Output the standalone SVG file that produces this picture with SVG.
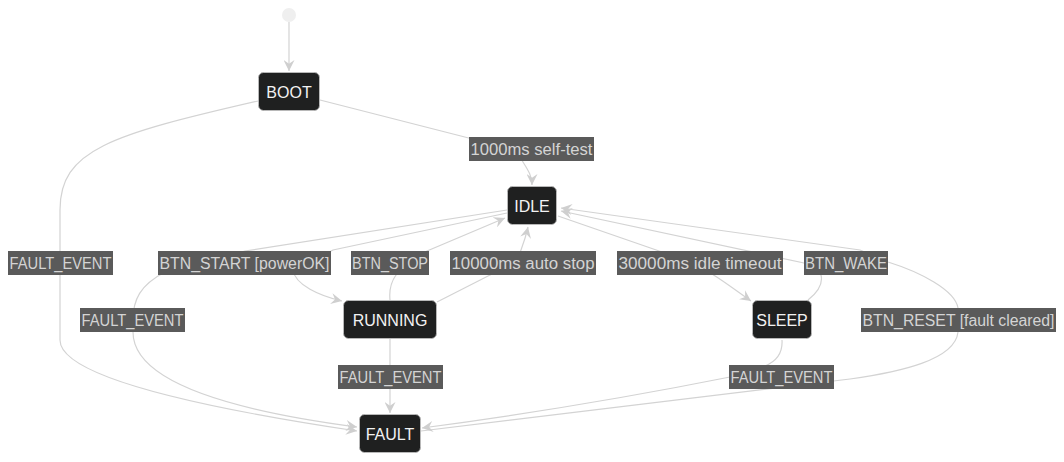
<svg xmlns="http://www.w3.org/2000/svg" width="1064" height="462" viewBox="0 0 1064 462">
<defs>
<style>
.edge{fill:none;stroke:#d3d3d3;stroke-width:1.2}
.lbl rect{fill:#5a5a5a}
.lbl text{font-family:"Liberation Sans",Arial,sans-serif;font-size:16px;fill:#d4d4d4;text-anchor:middle}
.node rect{fill:#1f2020;stroke:#b8b8b8;stroke-width:1}
.node text{font-family:"Liberation Sans",Arial,sans-serif;font-size:16px;fill:#f2f2f2;text-anchor:middle}
</style>
<marker id="arr" viewBox="0 0 10 10" refX="10" refY="5" markerWidth="11" markerHeight="11" markerUnits="userSpaceOnUse" orient="auto">
<path d="M0,0 L10,5 L0,10 L3.5,5 z" fill="#cfcfcf"/>
</marker>
</defs>
<rect width="1064" height="462" fill="#ffffff"/>
<g id="connectors">
<path class="edge" d="M289,22 L289,71" marker-end="url(#arr)"/>
<path class="edge" d="M320,100 L500,146 C515,150 521,156 523,162 C528,170 532,176 532,185" marker-end="url(#arr)"/>
<path class="edge" d="M258,101 C110,135 60,150 60,210 L60,340 C60,370 150,400 357,431" marker-end="url(#arr)"/>
<path class="edge" d="M507,213 L333,250 L293,270 C295,285 320,296 342,301" marker-end="url(#arr)"/>
<path class="edge" d="M507,210 L245,251 L165,272 C140,285 133,300 133,320 L133,332 C133,370 190,405 357,427" marker-end="url(#arr)"/>
<path class="edge" d="M390,300 C389,290 391,282 396,275 L415,258 L427,251 L505,218" marker-end="url(#arr)"/>
<path class="edge" d="M437,302 L492,274 C510,265 518,258 521,250 C524,242 526,236 528,227" marker-end="url(#arr)"/>
<path class="edge" d="M558,216 L662,252 L712,274 C725,282 738,292 751,301" marker-end="url(#arr)"/>
<path class="edge" d="M808,300 C818,292 823,283 821,275 L804,263 L561,211" marker-end="url(#arr)"/>
<path class="edge" d="M421,431 L850,379 C900,372 955,360 958,332 L958,308 C955,290 920,272 888,262 L860,250 L561,208" marker-end="url(#arr)"/>
<path class="edge" d="M782,340 C783,355 775,362 765,366 L730,377 C640,395 520,415 422,428" marker-end="url(#arr)"/>
<path class="edge" d="M390,339 L390,413" marker-end="url(#arr)"/>
<g class="lbl"><rect x="469" y="137" width="125" height="24"/><text x="531.5" y="154.5" textLength="122" lengthAdjust="spacingAndGlyphs">1000ms self-test</text></g>
<g class="lbl"><rect x="8" y="251" width="105" height="24"/><text x="60.5" y="268.5" textLength="102" lengthAdjust="spacingAndGlyphs">FAULT_EVENT</text></g>
<g class="lbl"><rect x="158" y="251" width="173" height="24"/><text x="244.5" y="268.5" textLength="170" lengthAdjust="spacingAndGlyphs">BTN_START [powerOK]</text></g>
<g class="lbl"><rect x="351" y="251" width="78" height="24"/><text x="390" y="268.5" textLength="76" lengthAdjust="spacingAndGlyphs">BTN_STOP</text></g>
<g class="lbl"><rect x="450" y="251" width="146" height="24"/><text x="523" y="268.5" textLength="143" lengthAdjust="spacingAndGlyphs">10000ms auto stop</text></g>
<g class="lbl"><rect x="617" y="251" width="166" height="24"/><text x="700" y="268.5" textLength="163" lengthAdjust="spacingAndGlyphs">30000ms idle timeout</text></g>
<g class="lbl"><rect x="804" y="251" width="84" height="24"/><text x="846" y="268.5" textLength="82" lengthAdjust="spacingAndGlyphs">BTN_WAKE</text></g>
<g class="lbl"><rect x="80" y="308" width="105" height="24"/><text x="132.5" y="325.5" textLength="102" lengthAdjust="spacingAndGlyphs">FAULT_EVENT</text></g>
<g class="lbl"><rect x="861" y="308" width="195" height="24"/><text x="958.5" y="325.5" textLength="192" lengthAdjust="spacingAndGlyphs">BTN_RESET [fault cleared]</text></g>
<g class="lbl"><rect x="338" y="365" width="105" height="24"/><text x="390.5" y="382.5" textLength="102" lengthAdjust="spacingAndGlyphs">FAULT_EVENT</text></g>
<g class="lbl"><rect x="729" y="365" width="105" height="24"/><text x="781.5" y="382.5" textLength="102" lengthAdjust="spacingAndGlyphs">FAULT_EVENT</text></g>
</g>
<g id="start"><circle cx="289" cy="15" r="7" fill="#efefef"/></g>
<g id="BOOT" class="node"><rect x="258.5" y="72.5" width="61" height="38" rx="5"/><text x="289" y="97.5">BOOT</text></g>
<g id="IDLE" class="node"><rect x="507.5" y="186.5" width="49" height="38" rx="5"/><text x="532" y="211.5">IDLE</text></g>
<g id="RUNNING" class="node"><rect x="343.5" y="300.5" width="93" height="38" rx="5"/><text x="390" y="325.5">RUNNING</text></g>
<g id="SLEEP" class="node"><rect x="752.5" y="300.5" width="59" height="38" rx="5"/><text x="782" y="325.5">SLEEP</text></g>
<g id="FAULT" class="node"><rect x="359.5" y="414.5" width="61" height="38" rx="5"/><text x="390" y="439.5">FAULT</text></g>
</svg>
